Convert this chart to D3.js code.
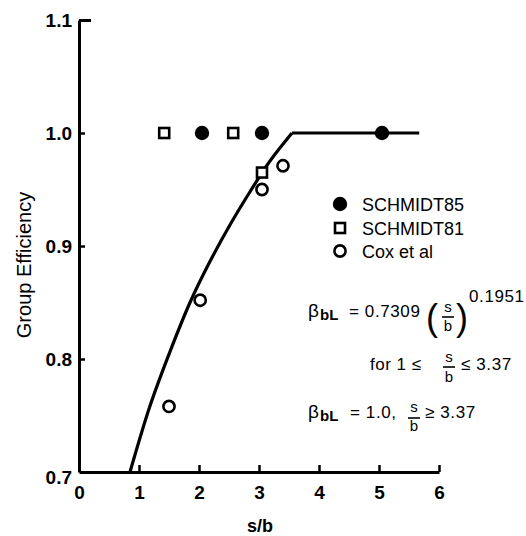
<!DOCTYPE html>
<html>
<head>
<meta charset="utf-8">
<script src="https://cdn.jsdelivr.net/npm/d3@7/dist/d3.min.js"></script>
<style>
  html, body { margin: 0; padding: 0; background: #fff; }
  svg { display: block; }
  text { font-family: "Liberation Sans", Arial, sans-serif; fill: #000; }
</style>
</head>
<body>
<svg id="chart" width="526" height="536"></svg>
<script>
// Group efficiency vs. spacing ratio s/b
const xTicks = [0, 1, 2, 3, 4, 5, 6];
const yTicks = [0.7, 0.8, 0.9, 1.0, 1.1];

// fitted curve, rising part then plateau
const curveX = [0.85, 1.18, 1.52, 1.85, 2.18, 2.52, 2.85, 3.18, 3.55, 5.67];
const curveY = [0.700, 0.758, 0.807, 0.850, 0.886, 0.919, 0.948, 0.975, 1.000, 1.000];

// test series
const schmidt85X = [2.05, 3.05, 5.05];
const schmidt85Y = [1.0, 1.0, 1.0];
const schmidt81X = [1.42, 2.57, 3.05];
const schmidt81Y = [1.0, 1.0, 0.965];
const coxX = [1.50, 2.02, 3.05, 3.40];
const coxY = [0.758, 0.852, 0.950, 0.971];

const legendLabels = ["SCHMIDT85", "SCHMIDT81", "Cox et al"];

const svg = d3.select("#chart");
const x = d3.scaleLinear().domain([0, 6]).range([79, 439]);
const y = d3.scaleLinear().domain([0.7, 1.1]).range([472, 20]);

// axes
const gx = svg.append("g").attr("transform", `translate(0,${y(0.7)})`)
  .call(d3.axisBottom(x).tickValues(xTicks).tickFormat(d3.format("d"))
    .tickSize(-7).tickSizeOuter(0).tickPadding(14));
const gy = svg.append("g").attr("transform", `translate(${x(0)},0)`)
  .call(d3.axisLeft(y).tickValues(yTicks).tickFormat(d3.format(".1f"))
    .tickSize(-6).tickSizeOuter(0).tickPadding(7));

[gx, gy].forEach(g => {
  g.select(".domain").attr("stroke", "#000").attr("stroke-width", 3);
  g.selectAll(".tick line").attr("stroke", "#000").attr("stroke-width", 2.5);
  g.selectAll(".tick text").attr("font-size", 19).attr("font-weight", "bold")
    .attr("font-family", "'Liberation Sans', Arial, sans-serif").attr("fill", "#000");
});
gx.selectAll(".tick").filter(d => d === 0).select("line").remove();
gy.selectAll(".tick").filter(d => d === 0.7).select("line").remove();
gy.selectAll(".tick").filter(d => d === 0.7).select("text").attr("dy", "0.72em").attr("y", -2);
gy.selectAll(".tick").filter(d => d === 1.1).select("line").attr("x2", 12).attr("stroke-width", 3);

// axis titles
svg.append("text").attr("x", x(3) + 1).attr("y", 532).attr("text-anchor", "middle")
  .attr("font-size", 18).attr("font-weight", "bold").text("s/b");
svg.append("text").attr("transform", "translate(31,265) rotate(-90)")
  .attr("text-anchor", "middle").attr("font-size", 20).text("Group Efficiency");

// fitted curve
const pts = curveX.map((v, i) => [v, curveY[i]]);
const kink = curveY.indexOf(1.0);
const lineSmooth = d3.line().x(d => x(d[0])).y(d => y(d[1])).curve(d3.curveCatmullRom.alpha(0.5));
const lineFlat = d3.line().x(d => x(d[0])).y(d => y(d[1]));
svg.append("path").attr("d", lineSmooth(pts.slice(0, kink + 1)))
  .attr("fill", "none").attr("stroke", "#000").attr("stroke-width", 3.2);
svg.append("path").attr("d", lineFlat(pts.slice(kink)))
  .attr("fill", "none").attr("stroke", "#000").attr("stroke-width", 3.2)
  .attr("stroke-linejoin", "round");

// markers
function drawFilled(g, cx, cy) {
  g.append("circle").attr("cx", cx).attr("cy", cy).attr("r", 7.2).attr("fill", "#000");
}
function drawSquare(g, cx, cy) {
  g.append("rect").attr("x", cx - 5).attr("y", cy - 5).attr("width", 10).attr("height", 10)
    .attr("fill", "#fff").attr("stroke", "#000").attr("stroke-width", 2.6);
}
function drawOpen(g, cx, cy) {
  g.append("circle").attr("cx", cx).attr("cy", cy).attr("r", 5.6)
    .attr("fill", "#fff").attr("stroke", "#000").attr("stroke-width", 2.6);
}
const marks = svg.append("g");
schmidt81X.forEach((v, i) => drawSquare(marks, x(v), y(schmidt81Y[i])));
coxX.forEach((v, i) => drawOpen(marks, x(v), y(coxY[i])));
schmidt85X.forEach((v, i) => drawFilled(marks, x(v), y(schmidt85Y[i])));

// legend
const lg = svg.append("g");
const drawers = [drawFilled, drawSquare, drawOpen];
const legY = [204, 228, 251];
legendLabels.forEach((t, i) => {
  drawers[i](lg, 340, legY[i]);
  lg.append("text").attr("x", 362).attr("y", legY[i] + 7).attr("font-size", 18).text(t);
});

// equations
const eq = svg.append("g").attr("font-size", 17);
function beta(yb) {
  eq.append("text").attr("x", 308).attr("y", yb).attr("font-size", 19).text("\u03b2");
  eq.append("text").attr("x", 320).attr("y", yb + 3).attr("font-size", 15).attr("font-weight", "bold").text("bL");
}
function frac(cx, ys, yb, ybar) {
  eq.append("text").attr("x", cx).attr("y", ys).attr("text-anchor", "middle").attr("font-size", 15).text("s");
  eq.append("line").attr("x1", cx - 6).attr("x2", cx + 6).attr("y1", ybar).attr("y2", ybar)
    .attr("stroke", "#000").attr("stroke-width", 1.6);
  eq.append("text").attr("x", cx).attr("y", yb).attr("text-anchor", "middle").attr("font-size", 15).text("b");
}
beta(317);
eq.append("text").attr("x", 349).attr("y", 317).attr("letter-spacing", 0.6).text("= 0.7309");
eq.append("text").attr("x", 426).attr("y", 330).attr("font-size", 36).attr("transform", "").text("(");
frac(448, 312, 331, 317);
eq.append("text").attr("x", 456).attr("y", 330).attr("font-size", 36).text(")");
eq.append("text").attr("x", 469).attr("y", 302).attr("letter-spacing", 0.6).text("0.1951");

eq.append("text").attr("x", 370).attr("y", 370).attr("letter-spacing", 0.5).text("for 1 \u2264");
frac(449, 362, 382, 367);
eq.append("text").attr("x", 461).attr("y", 370).attr("letter-spacing", 0.6).text("\u2264 3.37");

beta(418);
eq.append("text").attr("x", 350).attr("y", 418).attr("letter-spacing", 0.6).text("= 1.0,");
frac(414, 412, 431, 418);
eq.append("text").attr("x", 425).attr("y", 418).attr("letter-spacing", 0.6).text("\u2265 3.37");
</script>
</body>
</html>
